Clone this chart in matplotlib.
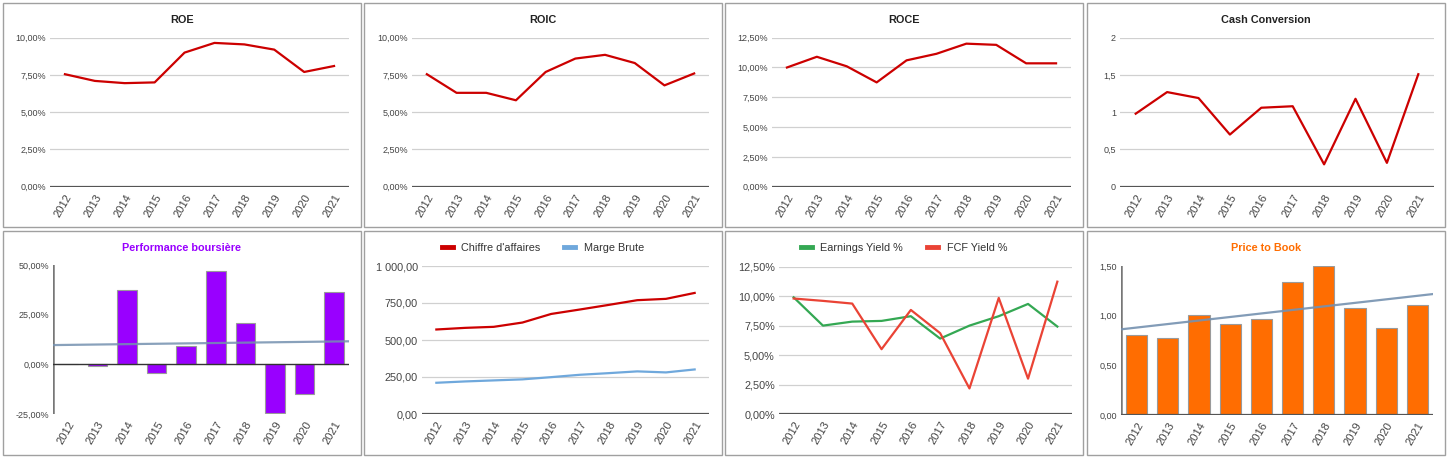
import matplotlib
matplotlib.use('Agg')
import matplotlib.pyplot as plt
import numpy as np
from matplotlib.patches import Rectangle

W, H = 1451, 462

years = ['2012', '2013', '2014', '2015', '2016', '2017', '2018', '2019', '2020', '2021']

roe = [7.55, 7.1, 6.95, 7.0, 9.0, 9.65, 9.55, 9.2, 7.7, 8.1]
roic = [7.55, 6.3, 6.3, 5.8, 7.7, 8.6, 8.85, 8.3, 6.8, 7.6]
roce = [10.0, 10.9, 10.1, 8.75, 10.6, 11.15, 12.0, 11.9, 10.35, 10.35]
cash_conv = [0.98, 1.27, 1.19, 0.70, 1.06, 1.08, 0.30, 1.18, 0.32, 1.51]
perf = [0.0, -1.0, 37.6, -4.2, 9.3, 47.1, 20.7, -24.4, -15.1, 36.4]
ca = [571, 582, 589, 618, 676, 706, 737, 769, 778, 818]
marge = [211, 220, 227, 234, 249, 265, 276, 288, 281, 301]
earn_yield = [9.9, 7.5, 7.84, 7.9, 8.3, 6.4, 7.5, 8.3, 9.34, 7.42]
fcf_yield = [9.8, 9.6, 9.37, 5.5, 8.83, 6.86, 2.17, 9.85, 3.0, 11.23]
ptb = [0.81, 0.78, 1.01, 0.92, 0.97, 1.34, 1.50, 1.08, 0.88, 1.11]

pct_ticks_10 = [0, 2.5, 5, 7.5, 10]
pct_labels_10 = ['0,00%', '2,50%', '5,00%', '7,50%', '10,00%']
pct_ticks_125 = [0, 2.5, 5, 7.5, 10, 12.5]
pct_labels_125 = ['0,00%', '2,50%', '5,00%', '7,50%', '10,00%', '12,50%']
cc_ticks = [0, 0.5, 1, 1.5, 2]
cc_labels = ['0', '0,5', '1', '1,5', '2']
perf_ticks = [-25, 0, 25, 50]
perf_labels = ['-25,00%', '0,00%', '25,00%', '50,00%']
ca_ticks = [0, 250, 500, 750, 1000]
ca_labels = ['0,00', '250,00', '500,00', '750,00', '1 000,00']
ptb_ticks = [0, 0.5, 1.0, 1.5]
ptb_labels = ['0,00', '0,50', '1,00', '1,50']

plt.rcParams['font.family'] = ['Liberation Sans', 'DejaVu Sans']

RED = '#cc0000'
TREND = '#7591b0'

fig = plt.figure(figsize=(W / 100, H / 100), dpi=100)

# panel frames
cols = [3, 364, 725, 1087]
rows = [3, 231]
for r in rows:
    for c in cols:
        fig.patches.append(Rectangle((c / W, 1 - (r + 224) / H), 358 / W, 224 / H,
                                     fill=False, edgecolor='#a0a0a0', lw=1,
                                     transform=fig.transFigure))


def px_axes(x0, y0, x1, y1):
    return fig.add_axes([x0 / W, 1 - y1 / H, (x1 - x0) / W, (y1 - y0) / H])


def style(ax, ticks, labels, fs=6.5, grid=True):
    ax.set_xlim(-0.5, 9.5)
    ax.set_ylim(ticks[0], ticks[-1])
    ax.set_yticks(ticks)
    ax.set_yticklabels(labels)
    ax.set_xticks(range(len(years)))
    ax.set_xticklabels(years, rotation=60, ha='right', rotation_mode='anchor')
    for s in ax.spines.values():
        s.set_visible(False)
    if grid:
        ax.yaxis.grid(True, color='#d0d0d0', lw=0.9)
    ax.set_axisbelow(True)
    ax.tick_params(axis='y', length=0, pad=3, labelsize=fs, labelcolor='#444444')
    ax.tick_params(axis='x', length=0, pad=4, labelsize=8, labelcolor='#444444')
    ax.patch.set_alpha(0)


def title(text, col, row, color='#222222'):
    cx = cols[col] + 179
    cy = rows[row] + 17
    fig.text(cx / W, 1 - cy / H, text, ha='center', va='center',
             fontsize=7.8, fontweight='bold', color=color)


x = np.arange(len(years))

# ROE
ax = px_axes(50, 37.7, 349, 186.7)
style(ax, pct_ticks_10, pct_labels_10)
ax.plot(x, roe, color=RED, lw=1.6)
ax.axhline(0, color='#555555', lw=1.6)
title('ROE', 0, 0)

# ROIC
ax = px_axes(412, 37.7, 709, 186.7)
style(ax, pct_ticks_10, pct_labels_10)
ax.plot(x, roic, color=RED, lw=1.6)
ax.axhline(0, color='#555555', lw=1.6)
title('ROIC', 1, 0)

# ROCE
ax = px_axes(772, 37.7, 1071, 186.7)
style(ax, pct_ticks_125, pct_labels_125)
ax.plot(x, roce, color=RED, lw=1.6)
ax.axhline(0, color='#555555', lw=1.6)
title('ROCE', 2, 0)

# Cash Conversion
ax = px_axes(1120, 37.7, 1434, 186.7)
style(ax, cc_ticks, cc_labels)
ax.plot(x, cash_conv, color=RED, lw=1.6)
ax.axhline(0, color='#555555', lw=1.6)
title('Cash Conversion', 3, 0)

# Performance boursiere
ax = px_axes(53, 265, 349, 414)
style(ax, perf_ticks, perf_labels, grid=False)
ax.bar(x, perf, width=0.66, color='#9900ff', edgecolor='#9a9a9a', lw=0.8, zorder=2)
k, b = np.polyfit(x, perf, 1)
xt = np.array([-0.5, 9.5])
ax.plot(xt, k * xt + b, color=TREND, lw=1.6, alpha=0.85, zorder=3)
ax.axhline(0, color='#333333', lw=1.0, zorder=3)
ax.axvline(-0.5, color='#777777', lw=1.8)
title('Performance boursière', 0, 1, color='#9900ff')

# Chiffre d'affaires / Marge Brute
ax = px_axes(422, 266, 709, 414)
style(ax, ca_ticks, ca_labels, fs=7.8)
ax.plot(x, ca, color=RED, lw=1.6, label="Chiffre d'affaires")
ax.plot(x, marge, color='#6fa8dc', lw=1.6, label='Marge Brute')
ax.axhline(0, color='#555555', lw=1.6)
ax.legend(loc='center', bbox_to_anchor=(543 / W, 1 - 248 / H), bbox_transform=fig.transFigure,
          ncol=2, frameon=False, fontsize=7.8, handlelength=1.0, handletextpad=0.8,
          columnspacing=2.2, labelcolor='#333333')
for h in ax.get_legend().get_lines():
    h.set_linewidth(3.5)

# Yields
ax = px_axes(779, 266.7, 1072, 414)
style(ax, pct_ticks_125, pct_labels_125, fs=7.8)
ax.plot(x, earn_yield, color='#34a853', lw=1.6, label='Earnings Yield %')
ax.plot(x, fcf_yield, color='#ea4335', lw=1.6, label='FCF Yield %')
ax.axhline(0, color='#555555', lw=1.6)
ax.legend(loc='center', bbox_to_anchor=(904 / W, 1 - 248 / H), bbox_transform=fig.transFigure,
          ncol=2, frameon=False, fontsize=7.8, handlelength=1.0, handletextpad=0.8,
          columnspacing=2.2, labelcolor='#333333')
for h in ax.get_legend().get_lines():
    h.set_linewidth(3.5)

# Price to Book
ax = px_axes(1121, 266, 1433, 415)
style(ax, ptb_ticks, ptb_labels, grid=False)
ax.bar(x, ptb, width=0.68, color='#ff6d01', edgecolor='#9a9a9a', lw=0.8, zorder=2)
k, b = np.polyfit(x, ptb, 1)
ax.plot(xt, k * xt + b, color=TREND, lw=1.6, alpha=0.9, zorder=3)
ax.axhline(0, color='#555555', lw=1.6, zorder=3)
ax.axvline(-0.5, color='#777777', lw=1.8)
title('Price to Book', 3, 1, color='#ff6d01')

fig.savefig('out.png', dpi=100)
